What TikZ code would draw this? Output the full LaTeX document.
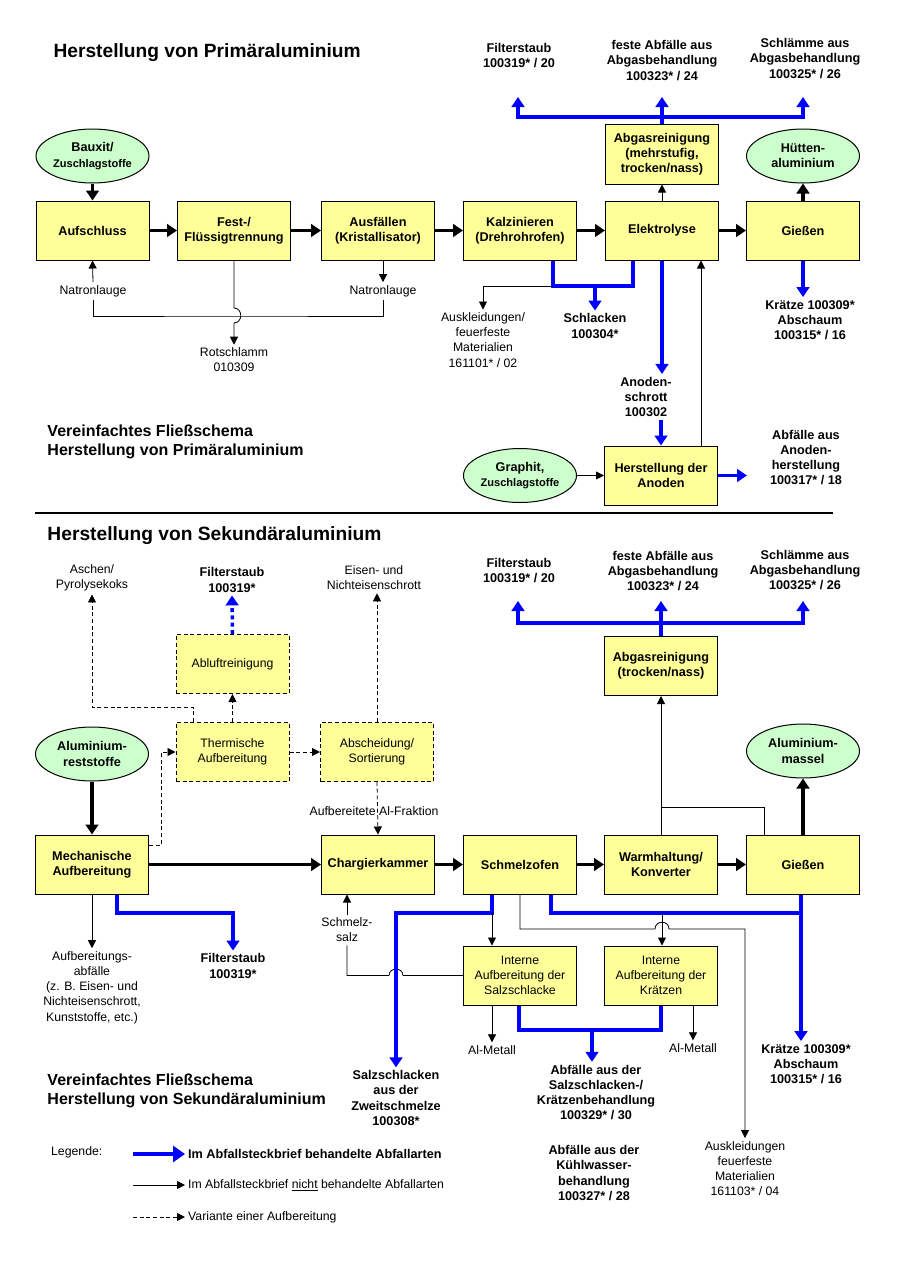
\documentclass[tikz,border=0pt]{standalone}
\usepackage{fontspec}
\setmainfont{Liberation Sans}
\usetikzlibrary{arrows.meta,shapes.geometric}

\definecolor{boxyellow}{RGB}{255,255,153}
\definecolor{ovalgreen}{RGB}{204,255,204}
\definecolor{pureblue}{RGB}{0,0,255}

\newcommand{\fnttitle}{\bfseries\fontsize{14.4}{17}\selectfont}
\newcommand{\fntsub}{\bfseries\fontsize{12}{14.3}\selectfont}
\newcommand{\fntbold}{\bfseries\fontsize{9.5}{11.4}\selectfont}
\newcommand{\fntreg}{\fontsize{9.2}{11.4}\selectfont}
\newcommand{\fntsmall}{\bfseries\fontsize{8.3}{10}\selectfont}

\tikzset{every picture/.style={line width=0.75pt}}
\tikzset{
  proc/.style={draw, fill=boxyellow, minimum width=84.75pt, minimum height=44.25pt,
    inner sep=0pt, align=center, font=\fntbold},
  iproc/.style={proc, font=\fntreg},
  dproc/.style={proc, font=\fntreg, dash pattern=on 3pt off 2pt},
  oval/.style={ellipse, draw, fill=ovalgreen, minimum width=84.75pt, minimum height=40.5pt,
    inner sep=0pt, align=center, font=\fntbold},
  lbl/.style={align=center, inner sep=2pt, font=\fntreg},
  blbl/.style={align=center, inner sep=2pt, font=\fntbold},
  title/.style={anchor=west, inner sep=0pt, font=\fnttitle},
  subtitle/.style={anchor=west, inner sep=0pt, align=left, font=\fntsub},
  thinarr/.style={line width=0.6pt, -{Triangle[length=6pt,width=6pt]}},
  thinln/.style={line width=0.6pt},
  dasharr/.style={line width=0.6pt, dash pattern=on 3pt off 2pt, -{Triangle[length=6pt,width=6pt]}},
  bigarr/.style={line width=2.6pt, -{Triangle[length=7.5pt,width=9.5pt]}},
  blueln/.style={draw=pureblue, line width=2.6pt},
  bluearr/.style={blueln, -{Triangle[length=7.5pt,width=9.5pt]}},
  bluebar/.style={blueln, {Triangle[length=7.5pt,width=9.5pt]}-{Triangle[length=7.5pt,width=9.5pt]}},
  bluedot/.style={blueln, dash pattern=on 3pt off 2.5pt, -{Triangle[length=7.5pt,width=9.5pt]}}
}

\begin{document}
\begin{tikzpicture}[x=0.75pt,y=0.75pt,yscale=-1,xscale=1]
\useasboundingbox (0,0) rectangle (900,1261);

%%%%%%%%%% Primaeraluminium
\node[title] (tit1) at (53,53) {Herstellung von Primäraluminium};

% Processes
\node[oval] (bauxit) at (92.5,156) {Bauxit/\\{\fntsmall Zuschlagstoffe}};
\node[proc] (aufschluss) at (92.5,230.5) {Aufschluss};
\node[proc] (fest) at (234,230.5) {Fest-/\\Flüssigtrennung};
\node[proc] (ausf) at (378,230.5) {Ausfällen\\(Kristallisator)};
\node[proc] (kalz) at (520,230.5) {Kalzinieren\\(Drehrohrofen)};
\node[proc] (elektro) at (662,230.5) {Elektrolyse};
\node[proc] (giessen1) at (803,230.5) {Gießen};
\node[proc, minimum height=45pt] (abgas1) at (662,154) {Abgasreinigung\\(mehrstufig,\\trocken/nass)};
\node[oval] (huette) at (803,156) {Hütten-\\aluminium};
\node[proc] (anoden) at (661,475.5) {Herstellung der\\Anoden};
\node[oval] (graphit) at (520,475.5) {Graphit,\\{\fntsmall Zuschlagstoffe}};

% Text Nodes
\node[blbl] (fs1) at (519,55.5) {Filterstaub\\100319* / 20};
\node[blbl] (fa1) at (662,60.5) {feste Abfälle aus\\Abgasbehandlung\\100323* / 24};
\node[blbl] (sl1) at (805,58.5) {Schlämme aus\\Abgasbehandlung\\100325* / 26};
\node[lbl] (natron1) at (93,291) {Natronlauge};
\node[lbl] (natron2) at (383,291) {Natronlauge};
\node[lbl] (rot) at (234,360) {Rotschlamm\\010309};
\node[lbl] (ausk1) at (483,340) {Auskleidungen/\\feuerfeste\\Materialien\\161101* / 02};
\node[blbl] (schlacken) at (595,326) {Schlacken\\100304*};
\node[blbl] (anschrott) at (646,397) {Anoden-\\schrott\\100302};
\node[blbl] (kraetze1) at (810,320) {Krätze 100309*\\Abschaum\\100315* / 16};
\node[blbl] (abfanod) at (806,457.5) {Abfälle aus\\Anoden-\\herstellung\\100317* / 18};
\node[subtitle] (verein1) at (47,442) {Vereinfachtes Fließschema\\Herstellung von Primäraluminium};

% Coordinates
\coordinate (fs1t) at (518,97);
\coordinate (fa1t) at (662,97);
\coordinate (sl1t) at (803,97);
\coordinate (bar1) at (662,117);
\coordinate (nl) at (234,316);
\coordinate (kb1) at (553,286);
\coordinate (kb2) at (633,286);
\coordinate (ae) at (701,446);
\coordinate (abt) at (747,475.5);

% Connectors
\draw[bigarr] (bauxit) -- (aufschluss);
\draw[bigarr] (aufschluss) -- (fest);
\draw[bigarr] (fest) -- (ausf);
\draw[bigarr] (ausf) -- (kalz);
\draw[bigarr] (kalz) -- (elektro);
\draw[bigarr] (elektro) -- (giessen1);
\draw[bigarr] (giessen1) -- (huette);
\draw[thinarr] (elektro) -- (abgas1);
\draw[bluebar] (fs1t) -- (fs1t |- bar1) -- (sl1t |- bar1) -- (sl1t);
\draw[bluearr] (abgas1.north) -- (fa1t);
\draw[thinarr] (natron1.north) -- (aufschluss.south);
\draw[thinarr] (ausf.south -| natron2) -- (natron2.north);
\draw[thinln] (natron1.south) |- (nl) -| (natron2.south);
\draw[thinarr] (fest.south) -- (234,308) .. controls (243,308) and (243,323) .. (234,323) -- (rot.north);
\draw[blueln] (kalz.south -| kb1) -- (kb1) -- (kb2) -- (elektro.south -| kb2);
\draw[bluearr] (schlacken.north |- kb1) -- (schlacken.north);
\draw[thinarr] (kb1) -| (ausk1.north);
\draw[bluearr] (elektro.south) -- (elektro.south |- anschrott.north);
\draw[bluearr] (anschrott.south -| anoden.north) -- (anoden.north);
\draw[thinarr] (graphit.east) -- (graphit.east -| anoden.west);
\draw[thinarr] (ae) -- (ae |- elektro.south);
\draw[bluearr] (anoden.east) -- (abt);
\draw[bluearr] (giessen1.south) -- (giessen1.south |- kraetze1.north);

% Separator
\draw[line width=1.5pt] (35,513) -- (833,513);

%%%%%%%%%% Sekundaeraluminium
\node[title] (tit2) at (47,536) {Herstellung von Sekundäraluminium};

% Processes
\node[dproc] (abluft) at (232.5,664) {Abluftreinigung};
\node[dproc] (therm) at (232.5,752) {Thermische\\Aufbereitung};
\node[dproc] (absch) at (377,752) {Abscheidung/\\Sortierung};
\node[oval] (alrest) at (92,754) {Aluminium-\\reststoffe};
\node[proc] (mech) at (92,864.5) {Mechanische\\Aufbereitung};
\node[proc] (charg) at (378,864.5) {Chargierkammer};
\node[proc] (schmelz) at (520,864.5) {Schmelzofen};
\node[proc] (warm) at (661,864.5) {Warmhaltung/\\Konverter};
\node[proc] (giessen2) at (803,864.5) {Gießen};
\node[proc] (abgas2) at (661,666) {Abgasreinigung\\(trocken/nass)};
\node[oval] (massel) at (803,751) {Aluminium-\\massel};
\node[iproc] (salzbox) at (520,975.5) {Interne\\Aufbereitung der\\Salzschlacke};
\node[iproc] (kraetzbox) at (661,975.5) {Interne\\Aufbereitung der\\Krätzen};

% Text Nodes
\node[lbl] (aschen) at (92,578) {Aschen/\\Pyrolysekoks};
\node[blbl] (fs2a) at (232,580) {Filterstaub\\100319*};
\node[lbl] (eisen) at (374,578) {Eisen- und\\Nichteisenschrott};
\node[blbl] (fs2) at (519,570.5) {Filterstaub\\100319* / 20};
\node[blbl] (fa2) at (663,571) {feste Abfälle aus\\Abgasbehandlung\\100323* / 24};
\node[blbl] (sl2) at (805,570) {Schlämme aus\\Abgasbehandlung\\100325* / 26};
\node[lbl] (alfrak) at (374,811) {Aufbereitete Al-Fraktion};
\node[lbl] (schsalz) at (347,930) {Schmelz-\\salz};
\node[lbl] (aufabf) at (92,987.5) {Aufbereitungs-\\abfälle\\(z. B. Eisen- und\\Nichteisenschrott,\\Kunststoffe, etc.)};
\node[blbl] (fs2b) at (233,966) {Filterstaub\\100319*};
\node[lbl] (alm1) at (492,1050) {Al-Metall};
\node[lbl] (alm2) at (693,1048) {Al-Metall};
\node[blbl] (salzsl) at (396,1098) {Salzschlacken\\aus der\\Zweitschmelze\\100308*};
\node[blbl] (abfsk) at (596,1092.5) {Abfälle aus der\\Salzschlacken-/\\Krätzenbehandlung\\100329* / 30};
\node[blbl] (kuehl) at (594,1173) {Abfälle aus der\\Kühlwasser-\\behandlung\\100327* / 28};
\node[lbl] (ausk2) at (745,1168.5) {Auskleidungen\\feuerfeste\\Materialien\\161103* / 04};
\node[blbl] (kraetze2) at (806,1064) {Krätze 100309*\\Abschaum\\100315* / 16};
\node[subtitle] (verein2) at (47,1091) {Vereinfachtes Fließschema\\Herstellung von Sekundäraluminium};

% Coordinates
\coordinate (fs2t) at (518,601);
\coordinate (fa2t) at (661,601);
\coordinate (sl2t) at (803,601);
\coordinate (bar2) at (661,623);
\coordinate (ta) at (193,707);
\coordinate (mt) at (161,845);
\coordinate (gj) at (764,807);
\coordinate (mb) at (117,913);
\coordinate (sb1) at (492,913);
\coordinate (sb3) at (551,913);
\coordinate (gb) at (801,913);
\coordinate (kb3) at (662,913);
\coordinate (ib1) at (519,1030);
\coordinate (ib2) at (661,1030);
\coordinate (ib3) at (592,1030);

% Connectors
\draw[bluebar] (fs2t) -- (fs2t |- bar2) -- (sl2t |- bar2) -- (sl2t);
\draw[bluearr] (abgas2.north) -- (fa2t);
\draw[dasharr] (ta |- therm.north) -- (ta) -| (aschen.south);
\draw[dasharr] (therm.north) -- (abluft.south);
\draw[bluedot] (abluft.north) -- (fs2a.south);
\draw[dasharr] (therm) -- (absch);
\draw[dasharr] (absch.north) -- (absch.north |- eisen.south);
\draw[dasharr] (absch.south) -- (charg.north);
\draw[dasharr] (mech.east |- mt) -- (mt) |- (therm.west);
\draw[bigarr] (alrest) -- (mech);
\draw[bigarr] (mech) -- (charg);
\draw[bigarr] (charg) -- (schmelz);
\draw[bigarr] (schmelz) -- (warm);
\draw[bigarr] (warm) -- (giessen2);
\draw[bigarr] (giessen2) -- (massel);
\draw[thinarr] (warm) -- (abgas2);
\draw[thinln] (gj |- giessen2.north) -- (gj) -- (gj -| warm.north);
\draw[thinarr] (mech.south) -- (aufabf.north);
\draw[bluearr] (mech.south -| mb) -- (mb) -| (fs2b.north);
\draw[thinarr] (schsalz.north) -- (schsalz.north |- charg.south);
\draw[thinln] (salzbox.west) -- (403,975.5) .. controls (403,967) and (389,967) .. (389,975.5) -| (schsalz.south);
\draw[bluearr] (schmelz.south -| sb1) -- (sb1) -| (salzsl.north);
\draw[blueln] (schmelz.south -| sb3) -- (sb3) -- (gb);
\draw[bluearr] (giessen2.south -| gb) -- (gb |- kraetze2.north);
\draw[thinarr] (sb1) -- (sb1 |- salzbox.north);
\draw[thinarr] (kb3) -- (kb3 |- kraetzbox.north);
\draw[thinarr] (schmelz.south) |- (655,929) .. controls (655,920) and (669,920) .. (669,929) -| (ausk2.north);
\draw[thinarr] (salzbox.south -| alm1) -- (alm1.north);
\draw[thinarr] (kraetzbox.south -| alm2) -- (alm2.north);
\draw[blueln] (salzbox.south -| ib1) -- (ib1) -- (ib2) -- (kraetzbox.south -| ib2);
\draw[bluearr] (ib3) -- (ib3 |- abfsk.north);

%%%%%%%%%% Legende
\node[lbl, anchor=west] (legende) at (48,1152) {Legende:};
\node[blbl, anchor=west] (leg1) at (185,1154) {Im Abfallsteckbrief behandelte Abfallarten};
\node[lbl, anchor=west] (leg2) at (185,1185) {Im Abfallsteckbrief \underline{nicht} behandelte Abfallarten};
\node[lbl, anchor=west] (leg3) at (185,1217) {Variante einer Aufbereitung};
\coordinate (lg1) at (133,1154);
\coordinate (lg2) at (133,1185);
\coordinate (lg3) at (133,1217);
\draw[blueln, line width=3.6pt, -{Triangle[length=9pt,width=12pt]}] (lg1) -- (leg1.west);
\draw[thinarr] (lg2) -- (leg2.west);
\draw[dasharr] (lg3) -- (leg3.west);

\end{tikzpicture}
\end{document}
